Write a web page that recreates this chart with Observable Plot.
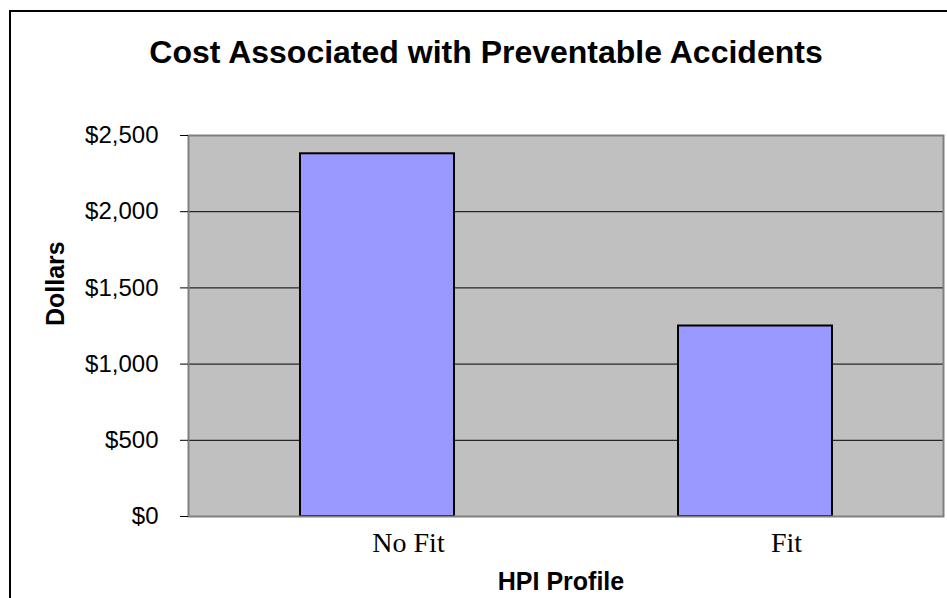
<!DOCTYPE html>
<html>
<head>
<meta charset="utf-8">
<script src="https://cdn.jsdelivr.net/npm/d3@7"></script>
<script src="https://cdn.jsdelivr.net/npm/@observablehq/plot@0.6"></script>
<style>
  html, body { margin: 0; padding: 0; background: #fff; }
  #wrap { position: relative; width: 947px; height: 598px; overflow: hidden; background: #fff; }
  #border { position: absolute; left: 9px; top: 10px; width: 1000px; height: 1000px; border: 2px solid #000; box-sizing: border-box; }
  #title { position: absolute; left: 0; top: 36px; width: 972px; text-align: center;
           font: bold 32px "Liberation Sans", Arial, sans-serif; line-height: 32px; color: #000; }
  #chart { position: absolute; left: 0; top: 100px; }
</style>
</head>
<body>
<div id="wrap">
  <div id="border"></div>
  <div id="title">Cost Associated with Preventable Accidents</div>
  <div id="chart"></div>
</div>
<script>
const categories = ["No Fit", "Fit"];
const costs = [2380, 1250];
const yTicks = [0, 500, 1000, 1500, 2000, 2500];
const gridTicks = [500, 1000, 1500, 2000];
const xTitle = "HPI Profile";
const yTitle = "Dollars";

const data = categories.map((c, i) => ({profile: c, cost: costs[i]}));
const sans = '"Liberation Sans", Arial, sans-serif';
const serif = '"Liberation Serif", "Times New Roman", serif';

const chart = Plot.plot({
  width: 947,
  height: 498,
  marginLeft: 188,
  marginRight: 4,
  marginTop: 35,
  marginBottom: 82,
  style: {background: "transparent", color: "#000", overflow: "visible"},
  x: {domain: categories, paddingInner: 0.593, paddingOuter: 0.294, align: 0.5, label: null},
  y: {domain: [0, 2500], label: null},
  marks: [
    Plot.frame({fill: "#C0C0C0", stroke: null}),
    Plot.gridY(gridTicks, {stroke: "#000", strokeOpacity: 1, strokeWidth: 1}),
    Plot.barY(data, {x: "profile", y: "cost", fill: "#9999FF", stroke: "#000", strokeWidth: 2}),
    Plot.frame({stroke: "#808080", strokeWidth: 2}),
    Plot.axisY({ticks: yTicks, tickSize: 8, tickPadding: 22, tickFormat: d => "$" + d3.format(",")(d),
                fontSize: 24, fontFamily: sans, label: null, stroke: "#000"}),
    Plot.axisX({tickSize: 0, tickPadding: 16, fontSize: 28, fontFamily: serif, dx: 31, label: null}),
    Plot.text([xTitle], {frameAnchor: "bottom", text: d => d, dy: 73, dx: -5, lineAnchor: "bottom",
                         fontSize: 25, fontWeight: "bold", fontFamily: sans, fill: "#000"}),
    Plot.text([yTitle], {frameAnchor: "left", text: d => d, rotate: -90, dx: -125, lineAnchor: "bottom",
                         fontSize: 25, fontWeight: "bold", fontFamily: sans, fill: "#000"})
  ]
});
document.getElementById("chart").appendChild(chart);
</script>
</body>
</html>
